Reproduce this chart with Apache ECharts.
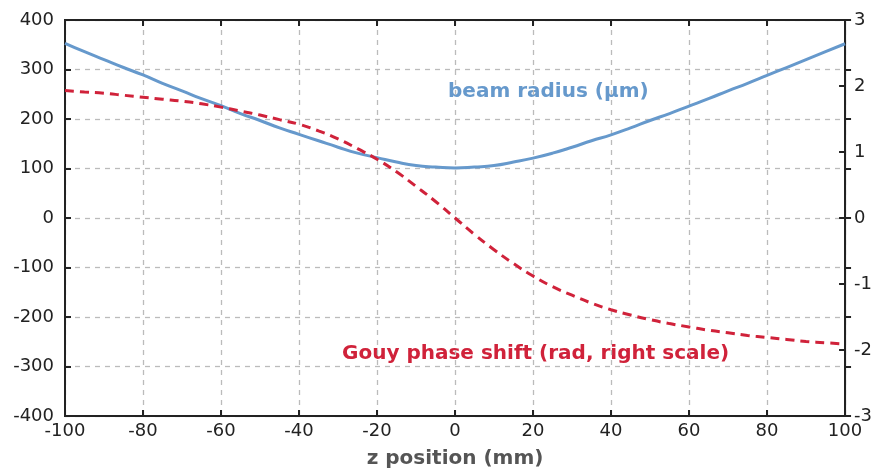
<!DOCTYPE html>
<html>
<head>
<meta charset="utf-8">
<script src="https://cdn.jsdelivr.net/npm/echarts@6/dist/echarts.min.js"></script>
<style>html,body{margin:0;padding:0;background:#fff}#c{width:875px;height:474px}</style>
</head>
<body>
<div id="c"></div>
<script>
// z position (mm)
var zPos = [-100,-95,-90,-85,-80,-75,-70,-65,-60,-55,-50,-45,-40,-35,-30,-25,-20,-15,-10,-5,0,5,10,15,20,25,30,35,40,45,50,55,60,65,70,75,80,85,90,95,100];
// beam radius (µm), left scale
var beamRadius = [353,336,320,304,289,272,257,241,227,211,197,182,169,156,143,131,122,113,106,103,101,103,106,113,121,131,143,156,168,182,197,211,226,241,257,272,288,304,320,336,352];
// Gouy phase shift (rad), right scale
var gouyPhase = [1.93,1.91,1.89,1.86,1.83,1.80,1.77,1.73,1.68,1.62,1.56,1.49,1.42,1.32,1.20,1.05,0.89,0.70,0.48,0.25,0,-0.25,-0.48,-0.69,-0.88,-1.04,-1.17,-1.29,-1.39,-1.47,-1.54,-1.60,-1.65,-1.70,-1.74,-1.78,-1.81,-1.84,-1.87,-1.89,-1.91];
var xTicks = {min:-100, max:100, interval:20};
var yLeftTicks = {min:-400, max:400, interval:100};
var yRightTicks = {min:-3, max:3, interval:1};

var blue = '#6699cc', red = '#d0223a';
var FONT = 'DejaVu Sans';
var axisLine = {show:true, onZero:false, lineStyle:{color:'#222', width:2}};
var tickIn = {show:true, inside:true, length:6, lineStyle:{color:'#222', width:2}};
var gridLine = {lineStyle:{type:[5,5], color:'#bbb', width:1.3}};
var chart = echarts.init(document.getElementById('c'), null, {renderer:'canvas'});
chart.setOption({
  animation:false,
  grid:{left:65, right:27, top:20, bottom:57, show:true, borderColor:'#222', borderWidth:2, backgroundColor:'transparent'},
  xAxis:[
    {type:'value', min:xTicks.min, max:xTicks.max, interval:xTicks.interval,
     name:'z position (mm)', nameLocation:'middle', nameGap:33,
     nameTextStyle:{fontFamily:FONT, fontSize:20, fontWeight:'bold', color:'#555'},
     axisLine:axisLine, axisTick:tickIn,
     axisLabel:{fontFamily:FONT, fontSize:18, color:'#222', margin:6},
     splitLine:gridLine},
    {type:'value', position:'top', min:xTicks.min, max:xTicks.max, interval:xTicks.interval,
     axisLine:axisLine, axisTick:tickIn, axisLabel:{show:false}, splitLine:{show:false}}
  ],
  yAxis:[
    {type:'value', min:yLeftTicks.min, max:yLeftTicks.max, interval:yLeftTicks.interval,
     axisLine:axisLine, axisTick:tickIn,
     axisLabel:{fontFamily:FONT, fontSize:18, color:'#222', margin:11},
     splitLine:gridLine},
    {type:'value', position:'right', min:yRightTicks.min, max:yRightTicks.max, interval:yRightTicks.interval,
     axisLine:axisLine, axisTick:tickIn,
     axisLabel:{fontFamily:FONT, fontSize:18, color:'#222', margin:9},
     splitLine:{show:false}},
    {type:'value', position:'right', min:yLeftTicks.min, max:yLeftTicks.max, interval:yLeftTicks.interval,
     axisLine:axisLine, axisTick:{show:true, inside:false, length:6, lineStyle:{color:'#222', width:2}},
     axisLabel:{show:false}, splitLine:{show:false}}
  ],
  series:[
    {type:'line', name:'beam radius (µm)', yAxisIndex:0, smooth:true, showSymbol:false,
     data:zPos.map(function(z,i){return [z, beamRadius[i]];}),
     lineStyle:{color:blue, width:3}, z:3},
    {type:'line', name:'Gouy phase shift (rad, right scale)', yAxisIndex:1, smooth:true, showSymbol:false,
     data:zPos.map(function(z,i){return [z, gouyPhase[i]];}),
     lineStyle:{color:red, width:3, type:[9,6]}, z:4}
  ],
  graphic:[
    {type:'text', left:448, top:82, style:{text:'beam radius (µm)', fill:blue, font:'bold 20px "DejaVu Sans"'}},
    {type:'text', left:342, top:344, style:{text:'Gouy phase shift (rad, right scale)', fill:red, font:'bold 20px "DejaVu Sans"'}}
  ]
});
</script>
</body>
</html>
